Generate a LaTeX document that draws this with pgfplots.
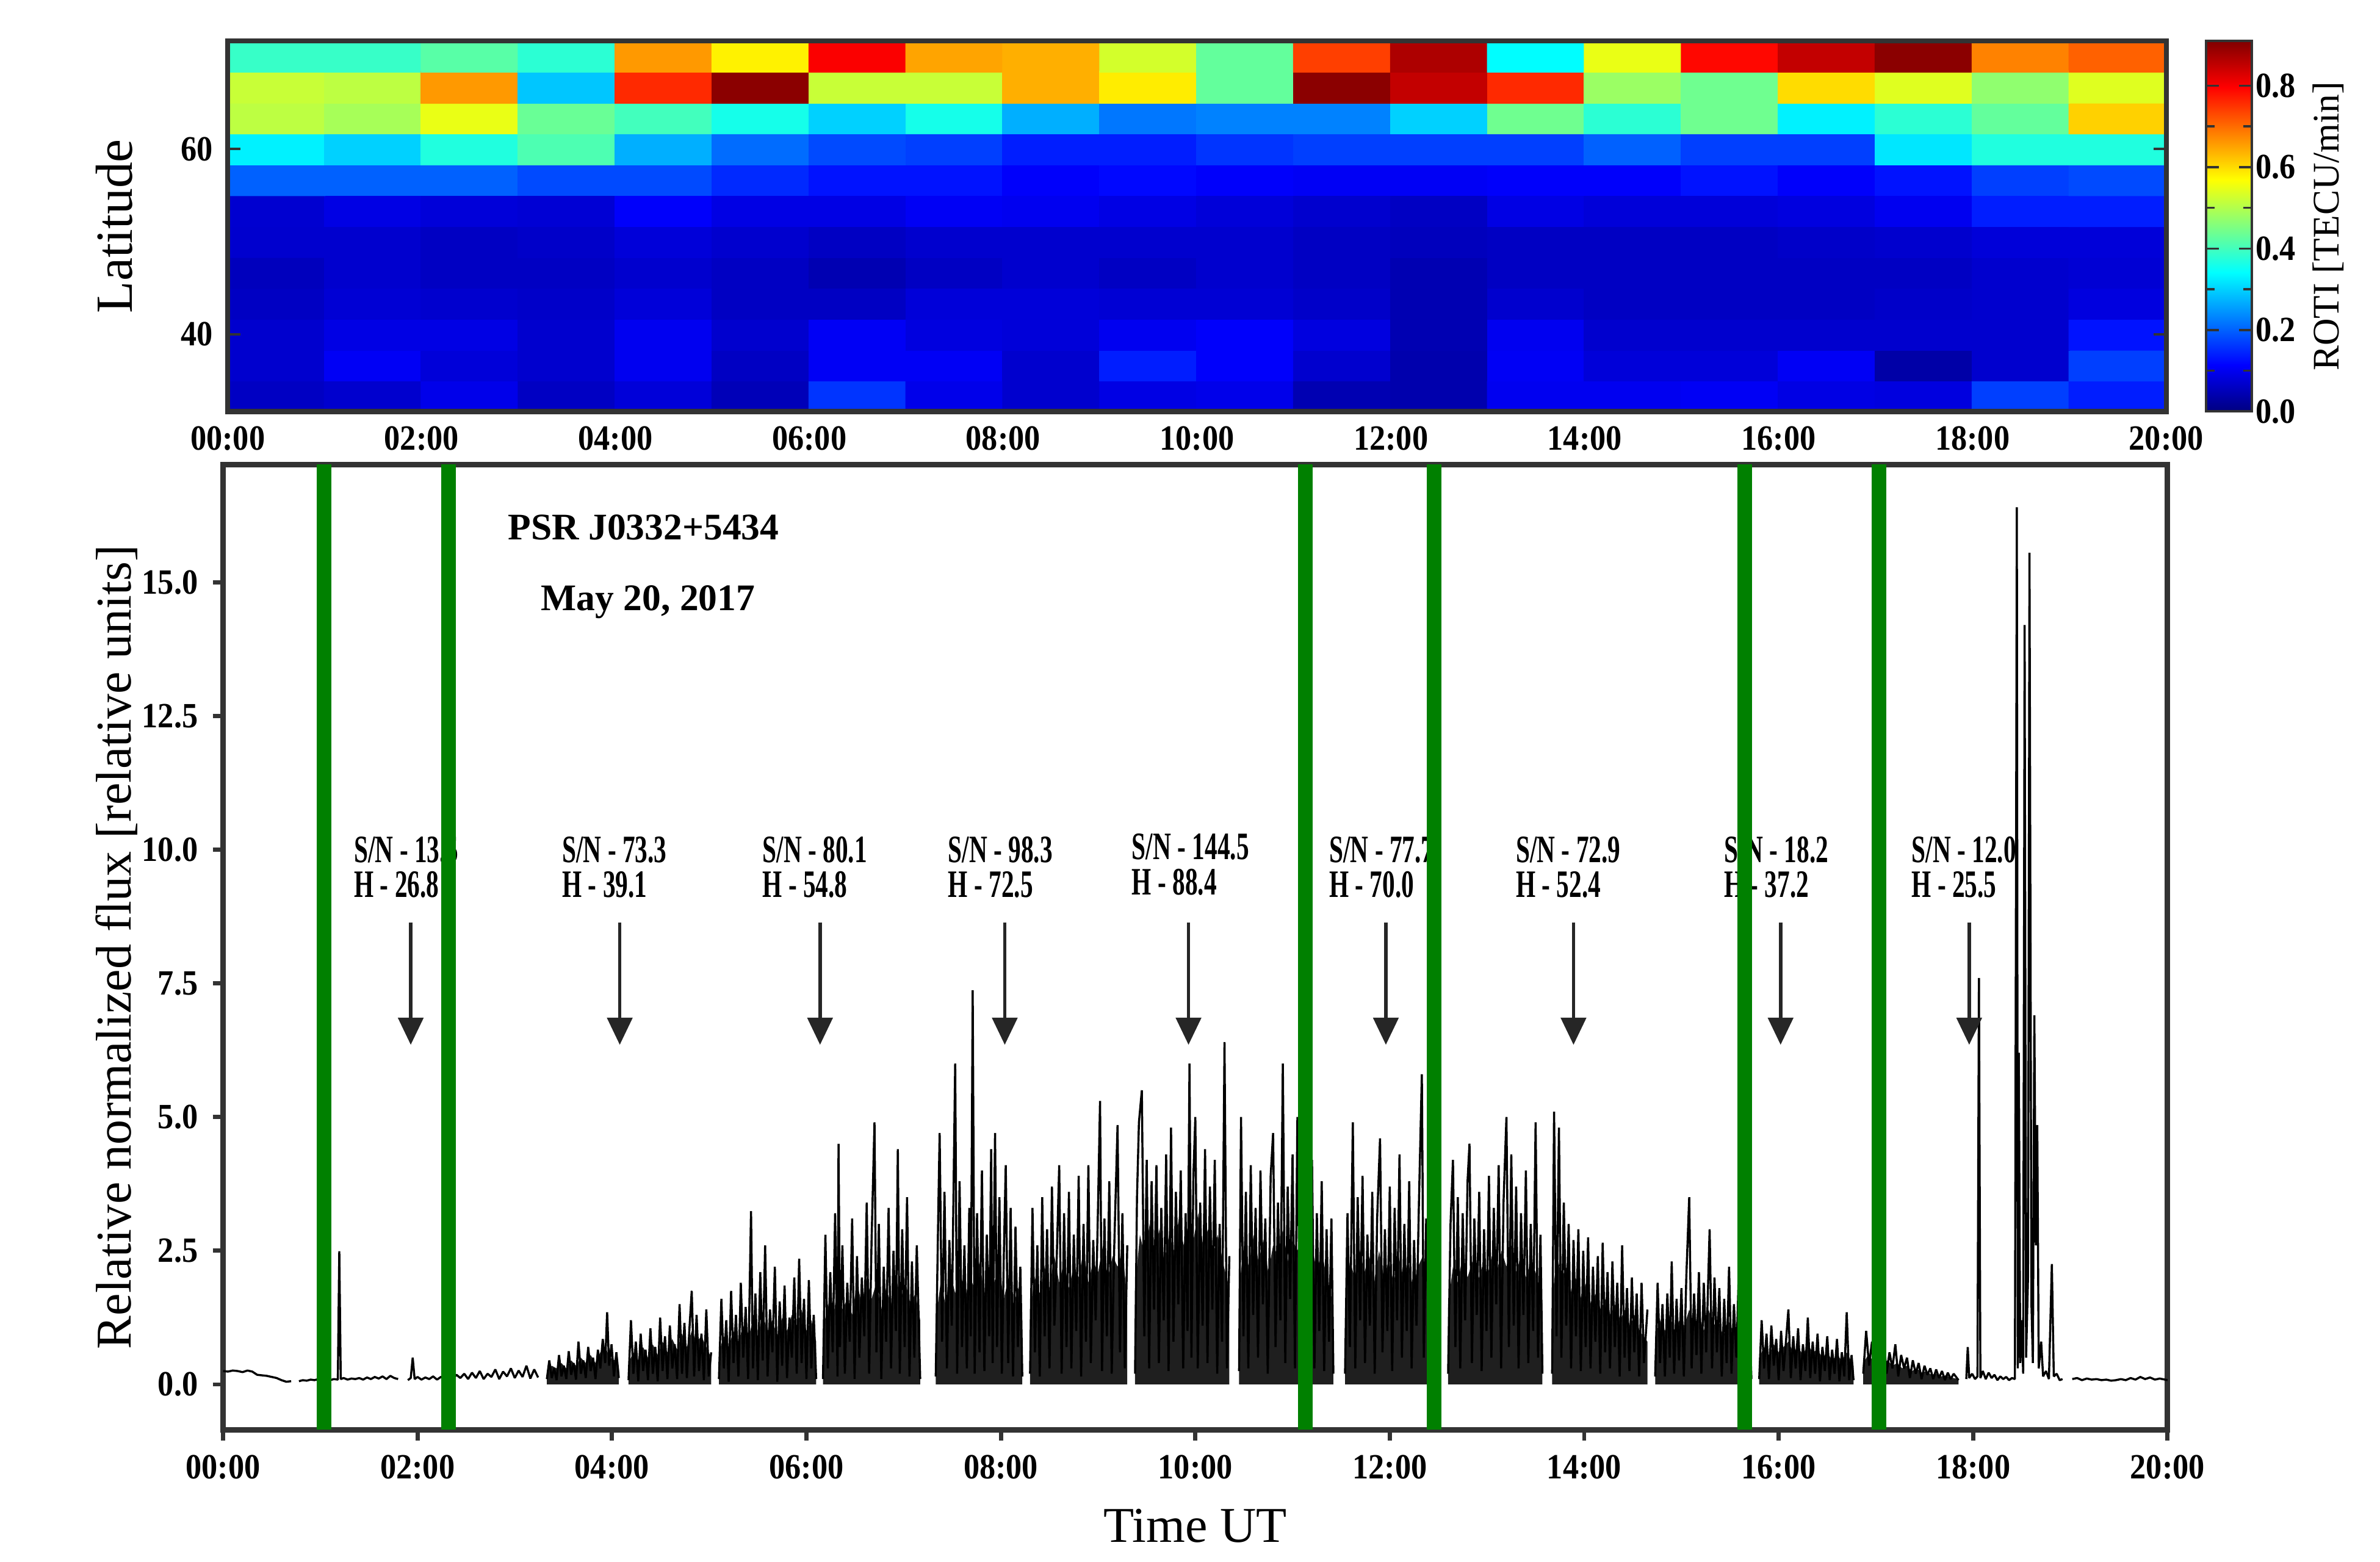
\documentclass[border=0pt]{standalone}
\usepackage{fontspec}
\setmainfont{Liberation Serif}
\newfontfamily\cond[FakeStretch=0.65]{Liberation Serif}
\newfontfamily\tickf[FakeStretch=0.9]{Liberation Serif}
\usepackage{pgfplots}
\pgfplotsset{compat=1.18}
\usetikzlibrary{arrows.meta}
\pgfplotsset{/pgf/number format/assume math mode=true}

\definecolor{frame}{HTML}{333333}
\definecolor{bargreen}{RGB}{0,128,0}

\tikzset{
  snlabel/.style={anchor=west, align=left, inner sep=0pt,
    font={\cond\fontsize{9.3}{8.4}\selectfont\bfseries}},
  snarrow/.style={line width=0.8pt, draw=black!85,
    -{Triangle[length=6.5pt, width=6pt]}},
}
\pgfplotsset{dense/.style={fill=black!88, draw=none}}

\begin{document}
\begin{tikzpicture}
% keep the reference's margins
\path (-53.45pt,-31.6pt) rectangle (516.7pt,342.6pt);

% ---- ROTI map ----
\begin{axis}[
    at={(1.1pt,244pt)}, anchor=south west,
    scale only axis, width=464.4pt, height=88.8pt,
    xmin=0, xmax=20, ymin=31.667, ymax=71.667,
    axis on top,
    axis line style={draw=frame, line width=1.2pt},
    xtick={0,2,...,20},
    xticklabels={00:00,02:00,04:00,06:00,08:00,10:00,12:00,14:00,16:00,18:00,20:00},
    xtick style={draw=none},
    ytick={40,60}, ytick pos=both,
    tick align=inside, major tick length=3pt,
    ytick style={draw=frame, line width=0.6pt},
    tick label style={font={\tickf\fontsize{8.5}{10}\selectfont\bfseries}},
    ylabel={Latitude},
    y label style={at={(axis description cs:-0.0586,0.5)}, anchor=center,
      font=\fontsize{12.5}{14}\selectfont},
    colormap/jet,
    point meta min=0, point meta max=0.91,
    colorbar,
    colorbar style={
      at={(parent axis.north east)}, anchor=north west, xshift=1pt,
      width=10.9pt,
      ytick={0,0.2,...,0.8}, minor ytick={0.1,0.3,0.5,0.7},
      tick align=inside, major tick length=3pt, minor tick length=2pt,
      ytick style={draw=frame, line width=0.5pt},
      axis line style={draw=frame, line width=0.6pt},
      yticklabel style={font={\tickf\fontsize{8.5}{10}\selectfont\bfseries}, xshift=-2.5pt,
        /pgf/number format/.cd, fixed, fixed zerofill, precision=1},
      ylabel={ROTI [TECU/min]},
      every axis y label/.style={at={(axis description cs:2.68,0.5)},
        anchor=center, rotate=90, font=\fontsize{9}{11}\selectfont},
    },
  ]
  \addplot[matrix plot*, mesh/cols=20, point meta=explicit] coordinates {
    (0.5,33.333)[0.06] (1.5,33.333)[0.07] (2.5,33.333)[0.095] (3.5,33.333)[0.06] (4.5,33.333)[0.08] (5.5,33.333)[0.05] (6.5,33.333)[0.16] (7.5,33.333)[0.095] (8.5,33.333)[0.07] (9.5,33.333)[0.09] (10.5,33.333)[0.095] (11.5,33.333)[0.045] (12.5,33.333)[0.04] (13.5,33.333)[0.10] (14.5,33.333)[0.10] (15.5,33.333)[0.105] (16.5,33.333)[0.09] (17.5,33.333)[0.085] (18.5,33.333)[0.17] (19.5,33.333)[0.14]

    (0.5,36.667)[0.07] (1.5,36.667)[0.105] (2.5,36.667)[0.08] (3.5,36.667)[0.07] (4.5,36.667)[0.10] (5.5,36.667)[0.06] (6.5,36.667)[0.105] (7.5,36.667)[0.105] (8.5,36.667)[0.07] (9.5,36.667)[0.14] (10.5,36.667)[0.11] (11.5,36.667)[0.07] (12.5,36.667)[0.04] (13.5,36.667)[0.105] (14.5,36.667)[0.08] (15.5,36.667)[0.08] (16.5,36.667)[0.105] (17.5,36.667)[0.035] (18.5,36.667)[0.07] (19.5,36.667)[0.17]

    (0.5,40)[0.07] (1.5,40)[0.09] (2.5,40)[0.09] (3.5,40)[0.07] (4.5,40)[0.10] (5.5,40)[0.07] (6.5,40)[0.105] (7.5,40)[0.085] (8.5,40)[0.08] (9.5,40)[0.10] (10.5,40)[0.11] (11.5,40)[0.085] (12.5,40)[0.045] (13.5,40)[0.10] (14.5,40)[0.07] (15.5,40)[0.07] (16.5,40)[0.07] (17.5,40)[0.07] (18.5,40)[0.07] (19.5,40)[0.13]

    (0.5,43.333)[0.06] (1.5,43.333)[0.075] (2.5,43.333)[0.07] (3.5,43.333)[0.065] (4.5,43.333)[0.08] (5.5,43.333)[0.06] (6.5,43.333)[0.06] (7.5,43.333)[0.08] (8.5,43.333)[0.08] (9.5,43.333)[0.075] (10.5,43.333)[0.075] (11.5,43.333)[0.065] (12.5,43.333)[0.045] (13.5,43.333)[0.07] (14.5,43.333)[0.06] (15.5,43.333)[0.06] (16.5,43.333)[0.06] (17.5,43.333)[0.065] (18.5,43.333)[0.07] (19.5,43.333)[0.085]

    (0.5,46.667)[0.055] (1.5,46.667)[0.07] (2.5,46.667)[0.06] (3.5,46.667)[0.06] (4.5,46.667)[0.07] (5.5,46.667)[0.06] (6.5,46.667)[0.045] (7.5,46.667)[0.06] (8.5,46.667)[0.07] (9.5,46.667)[0.06] (10.5,46.667)[0.07] (11.5,46.667)[0.06] (12.5,46.667)[0.045] (13.5,46.667)[0.06] (14.5,46.667)[0.06] (15.5,46.667)[0.06] (16.5,46.667)[0.06] (17.5,46.667)[0.06] (18.5,46.667)[0.07] (19.5,46.667)[0.075]

    (0.5,50)[0.07] (1.5,50)[0.07] (2.5,50)[0.06] (3.5,50)[0.065] (4.5,50)[0.08] (5.5,50)[0.07] (6.5,50)[0.06] (7.5,50)[0.07] (8.5,50)[0.07] (9.5,50)[0.07] (10.5,50)[0.07] (11.5,50)[0.06] (12.5,50)[0.055] (13.5,50)[0.06] (14.5,50)[0.06] (15.5,50)[0.06] (16.5,50)[0.065] (17.5,50)[0.07] (18.5,50)[0.08] (19.5,50)[0.08]

    (0.5,53.333)[0.072] (1.5,53.333)[0.09] (2.5,53.333)[0.08] (3.5,53.333)[0.075] (4.5,53.333)[0.11] (5.5,53.333)[0.09] (6.5,53.333)[0.09] (7.5,53.333)[0.105] (8.5,53.333)[0.10] (9.5,53.333)[0.09] (10.5,53.333)[0.08] (11.5,53.333)[0.07] (12.5,53.333)[0.06] (13.5,53.333)[0.09] (14.5,53.333)[0.08] (15.5,53.333)[0.08] (16.5,53.333)[0.085] (17.5,53.333)[0.10] (18.5,53.333)[0.14] (19.5,53.333)[0.14]

    (0.5,56.667)[0.20] (1.5,56.667)[0.20] (2.5,56.667)[0.20] (3.5,56.667)[0.18] (4.5,56.667)[0.18] (5.5,56.667)[0.15] (6.5,56.667)[0.13] (7.5,56.667)[0.13] (8.5,56.667)[0.11] (9.5,56.667)[0.12] (10.5,56.667)[0.11] (11.5,56.667)[0.105] (12.5,56.667)[0.105] (13.5,56.667)[0.11] (14.5,56.667)[0.11] (15.5,56.667)[0.13] (16.5,56.667)[0.11] (17.5,56.667)[0.13] (18.5,56.667)[0.17] (19.5,56.667)[0.18]

    (0.5,60)[0.33] (1.5,60)[0.30] (2.5,60)[0.37] (3.5,60)[0.41] (4.5,60)[0.27] (5.5,60)[0.21] (6.5,60)[0.18] (7.5,60)[0.17] (8.5,60)[0.14] (9.5,60)[0.14] (10.5,60)[0.16] (11.5,60)[0.17] (12.5,60)[0.17] (13.5,60)[0.17] (14.5,60)[0.20] (15.5,60)[0.17] (16.5,60)[0.17] (17.5,60)[0.32] (18.5,60)[0.37] (19.5,60)[0.37]

    (0.5,63.333)[0.51] (1.5,63.333)[0.49] (2.5,63.333)[0.55] (3.5,63.333)[0.435] (4.5,63.333)[0.40] (5.5,63.333)[0.36] (6.5,63.333)[0.30] (7.5,63.333)[0.36] (8.5,63.333)[0.27] (9.5,63.333)[0.22] (10.5,63.333)[0.23] (11.5,63.333)[0.23] (12.5,63.333)[0.30] (13.5,63.333)[0.44] (14.5,63.333)[0.38] (15.5,63.333)[0.44] (16.5,63.333)[0.33] (17.5,63.333)[0.38] (18.5,63.333)[0.43] (19.5,63.333)[0.61]

    (0.5,66.667)[0.52] (1.5,66.667)[0.51] (2.5,66.667)[0.66] (3.5,66.667)[0.29] (4.5,66.667)[0.76] (5.5,66.667)[0.90] (6.5,66.667)[0.52] (7.5,66.667)[0.52] (8.5,66.667)[0.64] (9.5,66.667)[0.585] (10.5,66.667)[0.43] (11.5,66.667)[0.90] (12.5,66.667)[0.85] (13.5,66.667)[0.76] (14.5,66.667)[0.48] (15.5,66.667)[0.44] (16.5,66.667)[0.60] (17.5,66.667)[0.54] (18.5,66.667)[0.47] (19.5,66.667)[0.54]

    (0.5,70)[0.39] (1.5,70)[0.39] (2.5,70)[0.42] (3.5,70)[0.38] (4.5,70)[0.66] (5.5,70)[0.58] (6.5,70)[0.80] (7.5,70)[0.65] (8.5,70)[0.64] (9.5,70)[0.53] (10.5,70)[0.43] (11.5,70)[0.74] (12.5,70)[0.87] (13.5,70)[0.34] (14.5,70)[0.55] (15.5,70)[0.79] (16.5,70)[0.85] (17.5,70)[0.90] (18.5,70)[0.68] (19.5,70)[0.71]
  };
\end{axis}

% ---- pulsar flux ----
\begin{axis}[
    at={(0pt,0pt)}, anchor=south west,
    scale only axis, width=465.8pt, height=231.3pt,
    xmin=0, xmax=20, ymin=-0.85, ymax=17.2,
    axis line style={draw=frame, line width=1.3pt},
    xtick={0,2,...,20},
    xticklabels={00:00,02:00,04:00,06:00,08:00,10:00,12:00,14:00,16:00,18:00,20:00},
    ytick={0,2.5,...,15},
    tick pos=left, tick align=outside, major tick length=2.5pt,
    tick style={draw=frame, line width=1pt},
    tick label style={font={\tickf\fontsize{8.5}{10}\selectfont\bfseries}},
    yticklabel style={/pgf/number format/.cd, fixed, fixed zerofill, precision=1},
    xlabel={Time UT},
    ylabel={Relative normalized flux [relative units]},
    x label style={at={(axis description cs:0.5,-0.0994)}, anchor=center,
      font=\fontsize{12}{14}\selectfont},
    y label style={at={(axis description cs:-0.0547,0.5)}, anchor=center,
      font=\fontsize{12}{14}\selectfont},
    unbounded coords=jump,
  ]

  \node[anchor=west, font=\fontsize{9}{10}\selectfont\bfseries] at (axis cs:2.78,16.02) {PSR J0332+5434};
  \node[anchor=west, font=\fontsize{9}{10}\selectfont\bfseries] at (axis cs:3.12,14.63) {May 20, 2017};

  \node[snlabel] at (axis cs:1.34,9.67) {S/N - 13.5\\H - 26.8};
  \node[snlabel] at (axis cs:3.48,9.67) {S/N - 73.3\\H - 39.1};
  \node[snlabel] at (axis cs:5.54,9.67) {S/N - 80.1\\H - 54.8};
  \node[snlabel] at (axis cs:7.45,9.67) {S/N - 98.3\\H - 72.5};
  \node[snlabel] at (axis cs:9.34,9.72) {S/N - 144.5\\H - 88.4};
  \node[snlabel] at (axis cs:11.37,9.67) {S/N - 77.7\\H - 70.0};
  \node[snlabel] at (axis cs:13.29,9.67) {S/N - 72.9\\H - 52.4};
  \node[snlabel] at (axis cs:15.43,9.67) {S/N - 18.2\\H - 37.2};
  \node[snlabel] at (axis cs:17.36,9.67) {S/N - 12.0\\H - 25.5};

  % level below which the dense trace is solid black, one block per recording
  \addplot[dense] coordinates {(3.33,0.25) (3.38,0.35) (3.43,0.3) (3.48,0.4) (3.53,0.3) (3.58,0.45) (3.63,0.35) (3.68,0.5) (3.73,0.4) (3.78,0.55) (3.83,0.4) (3.88,0.6) (3.93,0.7) (3.98,0.5) (4.03,0.45) (4.07,0.3)} \closedcycle;
  \addplot[dense] coordinates {(4.17,0.4) (4.22,0.6) (4.27,0.45) (4.32,0.7) (4.37,0.5) (4.42,0.75) (4.47,0.55) (4.52,0.8) (4.57,0.6) (4.62,0.85) (4.67,0.65) (4.72,0.95) (4.77,0.7) (4.82,1.0) (4.87,0.8) (4.92,0.9) (4.97,0.7) (5.02,0.5)} \closedcycle;
  \addplot[dense] coordinates {(5.10,0.6) (5.15,0.9) (5.20,0.7) (5.25,1.0) (5.30,0.8) (5.35,1.1) (5.40,0.85) (5.45,1.2) (5.50,0.9) (5.55,1.3) (5.60,1.0) (5.65,1.2) (5.70,0.9) (5.75,1.25) (5.80,1.0) (5.85,1.3) (5.90,1.1) (5.95,1.4) (6.00,1.0) (6.05,1.2) (6.10,0.8)} \closedcycle;
  \addplot[dense] coordinates {(6.17,1.0) (6.22,1.5) (6.27,1.2) (6.32,1.8) (6.37,1.4) (6.42,1.6) (6.47,1.3) (6.52,1.9) (6.57,1.5) (6.62,2.0) (6.67,1.6) (6.72,1.9) (6.77,1.4) (6.82,1.8) (6.87,1.5) (6.92,2.0) (6.97,1.6) (7.02,1.9) (7.07,1.5) (7.12,1.7) (7.17,1.2)} \closedcycle;
  \addplot[dense] coordinates {(7.33,1.2) (7.38,1.9) (7.43,1.5) (7.48,2.1) (7.53,1.7) (7.58,2.2) (7.63,1.6) (7.68,2.0) (7.73,1.8) (7.78,2.3) (7.83,1.7) (7.88,2.1) (7.93,1.9) (7.98,2.2) (8.03,1.6) (8.08,2.0) (8.13,1.5) (8.18,1.8) (8.22,1.2)} \closedcycle;
  \addplot[dense] coordinates {(8.30,1.4) (8.35,2.0) (8.40,1.7) (8.45,2.2) (8.50,1.8) (8.55,2.4) (8.60,1.9) (8.65,2.3) (8.70,1.8) (8.75,2.2) (8.80,2.0) (8.85,2.5) (8.90,1.9) (8.95,2.3) (9.00,2.1) (9.05,2.6) (9.10,2.0) (9.15,2.4) (9.20,2.2) (9.25,2.5) (9.30,1.6)} \closedcycle;
  \addplot[dense] coordinates {(9.38,1.8) (9.43,2.8) (9.48,2.4) (9.53,3.0) (9.58,2.5) (9.63,2.9) (9.68,2.3) (9.73,2.8) (9.78,2.5) (9.83,3.1) (9.88,2.6) (9.93,3.0) (9.98,2.7) (10.03,3.2) (10.08,2.6) (10.13,2.9) (10.18,2.4) (10.23,2.8) (10.28,2.3) (10.35,1.8)} \closedcycle;
  \addplot[dense] coordinates {(10.45,1.8) (10.50,2.6) (10.55,2.2) (10.60,2.8) (10.65,2.3) (10.70,2.7) (10.75,2.1) (10.80,2.6) (10.85,2.4) (10.90,2.9) (10.95,2.3) (11.00,2.7) (11.05,2.5) (11.10,2.8) (11.15,2.2) (11.20,2.6) (11.25,2.1) (11.30,2.5) (11.35,2.0) (11.42,1.5)} \closedcycle;
  \addplot[dense] coordinates {(11.54,1.5) (11.59,2.3) (11.64,2.0) (11.69,2.5) (11.74,2.1) (11.79,2.4) (11.84,1.9) (11.89,2.5) (11.94,2.0) (11.99,2.3) (12.04,1.9) (12.09,2.4) (12.14,2.0) (12.19,2.3) (12.24,1.8) (12.29,2.2) (12.34,2.4) (12.39,1.9) (12.44,2.1) (12.52,1.4)} \closedcycle;
  \addplot[dense] coordinates {(12.60,1.5) (12.65,2.2) (12.70,1.9) (12.75,2.4) (12.80,2.0) (12.85,2.3) (12.90,1.9) (12.95,2.2) (13.00,2.0) (13.05,2.4) (13.10,2.1) (13.15,2.5) (13.20,2.2) (13.25,2.6) (13.30,2.1) (13.35,2.4) (13.40,2.0) (13.45,2.3) (13.50,2.1) (13.57,1.5)} \closedcycle;
  \addplot[dense] coordinates {(13.67,1.6) (13.72,2.4) (13.77,2.0) (13.82,2.2) (13.87,1.7) (13.92,2.0) (13.97,1.6) (14.02,1.9) (14.07,1.5) (14.12,1.7) (14.17,1.4) (14.22,1.6) (14.27,1.3) (14.32,1.5) (14.37,1.2) (14.42,1.4) (14.47,1.1) (14.52,1.3) (14.57,1.0) (14.65,0.8)} \closedcycle;
  \addplot[dense] coordinates {(14.73,0.9) (14.78,1.2) (14.83,1.0) (14.88,1.3) (14.93,1.0) (14.98,1.2) (15.03,1.1) (15.08,1.4) (15.13,1.1) (15.18,1.3) (15.23,1.0) (15.28,1.4) (15.33,1.1) (15.38,1.2) (15.43,0.9) (15.48,1.2) (15.53,1.0) (15.58,1.1) (15.63,0.9) (15.72,0.6)} \closedcycle;
  \addplot[dense] coordinates {(15.80,0.5) (15.85,0.7) (15.90,0.55) (15.95,0.75) (16.00,0.6) (16.05,0.7) (16.10,0.8) (16.15,0.6) (16.20,0.7) (16.25,0.55) (16.30,0.75) (16.35,0.6) (16.40,0.65) (16.45,0.5) (16.50,0.6) (16.55,0.45) (16.60,0.55) (16.65,0.45) (16.70,0.6) (16.77,0.35)} \closedcycle;
  \addplot[dense] coordinates {(16.87,0.4) (16.92,0.55) (16.97,0.45) (17.02,0.5) (17.07,0.4) (17.12,0.45) (17.17,0.35) (17.22,0.4) (17.27,0.3) (17.32,0.35) (17.37,0.25) (17.42,0.3) (17.47,0.22) (17.52,0.25) (17.57,0.18) (17.62,0.2) (17.67,0.15) (17.72,0.17) (17.77,0.13) (17.85,0.1)} \closedcycle;

  % flux, segments separated by nan
  \addplot[black, line width=0.5pt, mark=none, line join=bevel] coordinates {
    (0.00,0.25) (0.05,0.24) (0.10,0.26) (0.15,0.25) (0.20,0.23) (0.25,0.26) (0.30,0.24) (0.35,0.18) (0.40,0.17) (0.45,0.16) (0.50,0.14) (0.55,0.12) (0.60,0.08) (0.65,0.05) (0.70,0.06)
    (0.74,nan)
    (0.78,0.06) (0.82,0.08) (0.86,0.07) (0.90,0.09) (0.94,0.08) (0.98,0.10) (1.02,0.09) (1.06,0.11) (1.10,0.08) (1.14,0.10) (1.18,0.09) (1.195,2.49) (1.21,0.10) (1.24,0.12) (1.28,0.09) (1.32,0.11) (1.36,0.10) (1.40,0.12) (1.44,0.09) (1.48,0.13) (1.52,0.10) (1.56,0.14) (1.60,0.11) (1.64,0.15) (1.68,0.10) (1.72,0.16) (1.76,0.12) (1.80,0.10)
    (1.85,nan)
    (1.90,0.08) (1.93,0.12) (1.95,0.50) (1.97,0.10) (2.00,0.14) (2.04,0.09) (2.08,0.13) (2.12,0.10) (2.16,0.15) (2.20,0.09) (2.24,0.14) (2.28,0.11) (2.32,0.16) (2.36,0.10) (2.40,0.18) (2.44,0.12) (2.48,0.20) (2.52,0.10) (2.56,0.22) (2.60,0.12) (2.64,0.25) (2.68,0.10) (2.72,0.20) (2.76,0.14) (2.80,0.28) (2.84,0.10) (2.88,0.24) (2.92,0.15) (2.96,0.30) (3.00,0.12) (3.04,0.26) (3.08,0.14) (3.12,0.35) (3.16,0.11) (3.20,0.28) (3.24,0.13)
    (3.28,nan)
    (3.330,0.10) (3.355,0.45) (3.380,0.12) (3.405,0.30) (3.430,0.08) (3.455,0.55) (3.480,0.15) (3.505,0.35) (3.530,0.10) (3.555,0.62) (3.580,0.18) (3.605,0.40) (3.630,0.09) (3.655,0.80) (3.680,0.20) (3.705,0.45) (3.730,0.12) (3.755,0.70) (3.780,0.25) (3.805,0.50) (3.830,0.10) (3.855,0.65) (3.880,0.30) (3.905,0.85) (3.930,0.40) (3.950,1.35) (3.970,0.35) (3.995,0.75) (4.020,0.15) (4.045,0.60) (4.070,0.12)
    (4.12,nan)
    (4.170,0.08) (4.195,1.20) (4.220,0.20) (4.245,0.80) (4.270,0.06) (4.295,0.95) (4.320,0.25) (4.345,0.65) (4.370,0.08) (4.395,1.05) (4.420,0.20) (4.445,0.70) (4.470,0.06) (4.495,1.25) (4.520,0.25) (4.545,0.90) (4.570,0.10) (4.595,1.10) (4.620,0.30) (4.645,0.75) (4.670,0.10) (4.695,1.50) (4.720,0.20) (4.745,1.15) (4.770,0.12) (4.795,1.00) (4.820,1.75) (4.845,0.15) (4.870,1.30) (4.895,0.25) (4.920,0.95) (4.945,0.08) (4.970,1.40) (4.995,0.15) (5.020,0.60)
    (5.06,nan)
    (5.100,0.10) (5.125,1.60) (5.150,0.30) (5.175,1.20) (5.200,0.05) (5.225,1.75) (5.250,0.40) (5.275,1.30) (5.300,0.15) (5.325,1.90) (5.350,0.50) (5.375,1.45) (5.400,0.10) (5.430,3.24) (5.450,0.30) (5.475,1.70) (5.500,0.08) (5.525,2.10) (5.550,0.45) (5.575,2.60) (5.600,0.15) (5.625,1.40) (5.650,0.60) (5.675,2.20) (5.700,0.05) (5.725,1.55) (5.750,0.35) (5.775,1.85) (5.800,0.12) (5.825,1.25) (5.850,0.50) (5.875,2.00) (5.900,0.20) (5.925,2.35) (5.950,0.40) (5.975,1.60) (6.000,0.10) (6.025,1.95) (6.050,0.30) (6.075,1.30) (6.100,0.10)
    (6.13,nan)
    (6.170,0.10) (6.195,2.80) (6.220,0.30) (6.245,2.10) (6.270,0.60) (6.295,3.20) (6.320,0.15) (6.330,4.50) (6.345,0.70) (6.370,2.60) (6.395,0.20) (6.420,1.90) (6.445,0.80) (6.470,3.10) (6.495,0.10) (6.520,2.40) (6.545,0.50) (6.570,2.00) (6.595,0.90) (6.620,3.40) (6.645,0.20) (6.670,2.70) (6.700,4.90) (6.720,0.60) (6.745,3.00) (6.770,0.10) (6.795,2.20) (6.820,0.80) (6.845,3.30) (6.870,0.30) (6.895,2.50) (6.920,1.00) (6.940,4.40) (6.960,0.20) (6.985,2.90) (7.010,0.70) (7.035,3.50) (7.060,0.15) (7.085,2.30) (7.110,0.50) (7.135,2.60) (7.170,0.10)
    (7.25,nan)
    (7.330,0.15) (7.355,3.10) (7.370,4.70) (7.395,0.80) (7.420,3.60) (7.445,0.30) (7.470,2.70) (7.495,1.10) (7.530,6.00) (7.550,0.20) (7.575,3.80) (7.600,0.70) (7.625,2.60) (7.650,0.30) (7.675,3.30) (7.690,0.90) (7.710,7.37) (7.730,0.20) (7.755,3.20) (7.780,0.60) (7.805,4.00) (7.830,0.25) (7.855,2.80) (7.880,0.90) (7.900,4.40) (7.915,0.40) (7.940,4.70) (7.960,0.70) (7.985,3.50) (8.010,0.20) (8.030,2.40) (8.050,4.10) (8.075,0.40) (8.100,3.30) (8.125,0.15) (8.150,2.95) (8.175,0.70) (8.200,2.20) (8.220,0.15)
    (8.26,nan)
    (8.300,0.20) (8.325,3.30) (8.350,0.60) (8.375,2.60) (8.400,0.15) (8.425,3.50) (8.450,0.90) (8.475,2.90) (8.500,0.30) (8.525,3.70) (8.550,1.10) (8.575,2.40) (8.600,4.10) (8.625,0.20) (8.650,3.20) (8.675,0.70) (8.700,3.60) (8.725,0.30) (8.750,2.80) (8.775,1.00) (8.800,3.90) (8.825,0.15) (8.850,3.00) (8.875,0.80) (8.900,4.10) (8.925,0.40) (8.950,2.70) (8.975,1.20) (9.000,3.40) (9.020,5.30) (9.040,0.25) (9.065,3.10) (9.090,0.90) (9.115,3.80) (9.140,0.20) (9.165,2.50) (9.200,4.85) (9.225,0.60) (9.250,3.20) (9.275,0.30) (9.300,2.60)
    (9.34,nan)
    (9.380,0.20) (9.400,3.50) (9.420,4.90) (9.450,5.50) (9.475,0.90) (9.500,4.20) (9.525,0.30) (9.550,3.80) (9.575,1.40) (9.600,4.10) (9.625,0.40) (9.650,3.30) (9.675,1.20) (9.700,4.30) (9.725,0.25) (9.750,4.80) (9.775,0.80) (9.800,3.60) (9.825,1.50) (9.850,4.00) (9.875,0.30) (9.900,3.20) (9.920,1.00) (9.940,6.00) (9.960,0.50) (9.980,3.90) (10.000,5.00) (10.025,0.30) (10.050,3.40) (10.075,1.10) (10.100,4.40) (10.125,0.40) (10.150,3.70) (10.175,1.40) (10.200,4.20) (10.225,0.20) (10.250,3.00) (10.275,0.80) (10.300,6.40) (10.325,0.30) (10.350,2.40)
    (10.40,nan)
    (10.450,0.25) (10.470,5.00) (10.495,0.90) (10.520,3.60) (10.545,0.30) (10.570,4.10) (10.595,1.30) (10.620,3.30) (10.645,0.50) (10.670,4.00) (10.695,1.50) (10.720,3.10) (10.745,0.20) (10.775,3.90) (10.800,4.70) (10.825,0.70) (10.850,3.40) (10.875,1.20) (10.900,6.00) (10.925,0.40) (10.950,3.70) (10.975,1.60) (11.000,4.30) (11.025,0.30) (11.050,5.00) (11.075,1.30) (11.100,5.20) (11.125,0.50) (11.150,3.50) (11.175,1.50) (11.200,4.20) (11.225,0.30) (11.250,3.20) (11.275,1.00) (11.300,3.80) (11.325,0.25) (11.350,2.90) (11.375,0.80) (11.400,3.10) (11.420,0.20)
    (11.48,nan)
    (11.540,0.20) (11.565,3.20) (11.590,0.70) (11.620,4.90) (11.645,0.30) (11.670,3.50) (11.695,1.20) (11.720,3.90) (11.745,0.40) (11.770,2.80) (11.795,1.10) (11.820,3.60) (11.845,0.20) (11.870,3.10) (11.900,4.60) (11.925,0.60) (11.950,2.90) (11.975,1.00) (12.000,3.70) (12.025,0.25) (12.050,3.30) (12.075,1.20) (12.100,4.30) (12.125,0.50) (12.150,3.00) (12.175,1.00) (12.200,3.80) (12.225,0.30) (12.250,2.70) (12.275,1.10) (12.300,3.40) (12.330,5.80) (12.350,0.50) (12.375,3.10) (12.400,0.90) (12.425,2.60) (12.450,4.00) (12.475,0.30) (12.500,2.50) (12.520,0.15)
    (12.56,nan)
    (12.600,0.20) (12.625,3.00) (12.650,4.20) (12.675,0.70) (12.700,3.50) (12.725,0.30) (12.750,3.20) (12.775,1.20) (12.800,3.80) (12.820,4.50) (12.845,0.40) (12.870,3.10) (12.895,1.30) (12.920,3.60) (12.945,0.25) (12.970,2.90) (12.995,1.00) (13.020,3.90) (13.045,0.50) (13.070,3.30) (13.095,1.50) (13.120,4.10) (13.145,0.30) (13.170,3.40) (13.200,5.00) (13.225,0.70) (13.250,4.30) (13.275,1.10) (13.300,3.70) (13.325,0.30) (13.350,3.20) (13.375,1.30) (13.400,4.00) (13.425,0.40) (13.450,3.00) (13.475,1.00) (13.500,4.90) (13.525,0.50) (13.550,2.80) (13.570,0.20)
    (13.62,nan)
    (13.670,0.20) (13.690,5.10) (13.715,0.90) (13.740,4.80) (13.765,0.50) (13.790,3.40) (13.815,1.10) (13.840,3.00) (13.865,0.30) (13.890,2.70) (13.915,0.90) (13.940,2.90) (13.965,0.25) (13.990,2.50) (14.015,0.70) (14.040,2.75) (14.065,0.30) (14.090,2.20) (14.115,0.80) (14.140,2.40) (14.165,0.20) (14.190,2.65) (14.215,0.60) (14.240,2.10) (14.265,0.30) (14.290,2.30) (14.315,0.70) (14.340,1.90) (14.365,0.15) (14.390,2.60) (14.415,0.50) (14.440,1.80) (14.465,0.25) (14.490,2.00) (14.515,0.60) (14.540,1.70) (14.565,0.15) (14.590,1.90) (14.615,0.40) (14.650,1.40)
    (14.69,nan)
    (14.730,0.15) (14.755,1.90) (14.780,0.40) (14.805,1.50) (14.830,0.15) (14.855,1.70) (14.880,0.50) (14.900,2.30) (14.925,0.20) (14.950,1.60) (14.975,0.45) (15.000,1.80) (15.025,0.15) (15.050,2.00) (15.080,3.50) (15.105,0.30) (15.130,1.70) (15.155,0.55) (15.180,2.10) (15.205,0.20) (15.230,1.90) (15.255,0.60) (15.290,2.90) (15.315,0.30) (15.340,2.00) (15.365,0.60) (15.390,1.80) (15.415,0.15) (15.440,1.60) (15.465,0.40) (15.490,2.20) (15.515,0.20) (15.540,1.50) (15.565,0.50) (15.590,2.10) (15.615,0.20) (15.640,1.40) (15.665,0.35) (15.690,1.70) (15.720,0.10)
    (15.76,nan)
    (15.800,0.10) (15.825,1.20) (15.850,0.30) (15.875,0.95) (15.900,0.10) (15.925,1.10) (15.950,0.35) (15.975,0.85) (16.000,0.08) (16.025,1.00) (16.050,0.25) (16.075,0.80) (16.100,1.40) (16.125,0.12) (16.150,0.90) (16.175,0.30) (16.200,1.05) (16.225,0.08) (16.250,0.75) (16.275,0.25) (16.300,1.25) (16.325,0.12) (16.350,0.80) (16.375,0.20) (16.400,0.95) (16.425,0.06) (16.450,0.70) (16.475,0.25) (16.500,0.90) (16.525,0.08) (16.550,0.65) (16.575,0.20) (16.600,0.85) (16.625,0.06) (16.650,0.60) (16.675,0.15) (16.700,1.35) (16.725,0.08) (16.750,0.55) (16.770,0.08)
    (16.82,nan)
    (16.870,0.20) (16.900,1.00) (16.930,0.35) (16.960,0.80) (16.990,0.25) (17.020,0.70) (17.050,0.40) (17.080,0.90) (17.110,0.20) (17.140,0.60) (17.170,0.30) (17.200,0.75) (17.230,0.15) (17.260,0.55) (17.290,0.30) (17.320,0.50) (17.350,0.12) (17.380,0.45) (17.410,0.20) (17.440,0.40) (17.470,0.10) (17.500,0.35) (17.530,0.18) (17.560,0.30) (17.590,0.10) (17.620,0.28) (17.650,0.12) (17.680,0.25) (17.710,0.08) (17.740,0.22) (17.770,0.10) (17.800,0.20) (17.850,0.08)
    (17.89,nan)
    (17.930,0.10) (17.945,0.70) (17.960,0.12) (17.990,0.20) (18.020,0.10) (18.045,0.15) (18.060,7.60) (18.075,0.12) (18.100,0.25) (18.130,0.10) (18.160,0.22) (18.190,0.12) (18.220,0.18) (18.250,0.08) (18.280,0.15) (18.310,0.10) (18.340,0.14) (18.370,0.08) (18.400,0.12) (18.430,0.10) (18.450,16.40) (18.460,0.30) (18.470,6.20) (18.485,0.40) (18.500,1.20) (18.515,0.20) (18.530,14.20) (18.545,0.50) (18.565,2.00) (18.580,15.55) (18.600,1.50) (18.615,0.40) (18.630,6.90) (18.645,2.60) (18.660,4.85) (18.675,0.30) (18.700,0.80) (18.720,0.15) (18.750,0.25) (18.780,0.10) (18.810,2.25) (18.830,0.15) (18.860,0.20) (18.890,0.08) (18.920,0.10)
    (18.97,nan)
    (19.02,0.10) (19.07,0.12) (19.12,0.08) (19.17,0.11) (19.22,0.09) (19.27,0.10) (19.32,0.08) (19.37,0.09) (19.42,0.07) (19.47,0.08) (19.52,0.10) (19.57,0.08) (19.62,0.12) (19.67,0.09) (19.72,0.14) (19.77,0.10) (19.82,0.13) (19.87,0.09) (19.92,0.11) (20.00,0.08)
  };

  % green markers of the observation windows
  \addplot[bargreen, line width=3.5pt] coordinates {(1.04,-0.85) (1.04,17.2)};
  \addplot[bargreen, line width=3.5pt] coordinates {(2.32,-0.85) (2.32,17.2)};
  \addplot[bargreen, line width=3.5pt] coordinates {(11.13,-0.85) (11.13,17.2)};
  \addplot[bargreen, line width=3.5pt] coordinates {(12.455,-0.85) (12.455,17.2)};
  \addplot[bargreen, line width=3.5pt] coordinates {(15.65,-0.85) (15.65,17.2)};
  \addplot[bargreen, line width=3.5pt] coordinates {(17.03,-0.85) (17.03,17.2)};

  \draw[snarrow] (axis cs:1.93,8.64) -- (axis cs:1.93,6.35);
  \draw[snarrow] (axis cs:4.08,8.64) -- (axis cs:4.08,6.35);
  \draw[snarrow] (axis cs:6.14,8.64) -- (axis cs:6.14,6.35);
  \draw[snarrow] (axis cs:8.04,8.64) -- (axis cs:8.04,6.35);
  \draw[snarrow] (axis cs:9.93,8.64) -- (axis cs:9.93,6.35);
  \draw[snarrow] (axis cs:11.96,8.64) -- (axis cs:11.96,6.35);
  \draw[snarrow] (axis cs:13.89,8.64) -- (axis cs:13.89,6.35);
  \draw[snarrow] (axis cs:16.02,8.64) -- (axis cs:16.02,6.35);
  \draw[snarrow] (axis cs:17.96,8.64) -- (axis cs:17.96,6.35);
\end{axis}
\end{tikzpicture}
\end{document}
